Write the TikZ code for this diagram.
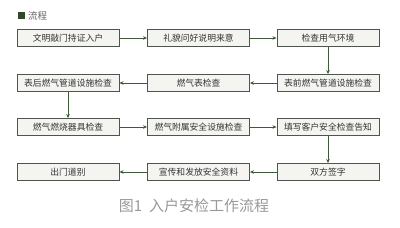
\documentclass[tikz,border=0pt]{standalone}
\usepackage{fontspec}
\setmainfont{Noto Sans CJK SC}
\usetikzlibrary{arrows.meta}
\definecolor{bordc}{HTML}{4E5550}
\definecolor{fillc}{HTML}{F4F4F1}
\definecolor{arrc}{HTML}{3F5A38}
\definecolor{txtc}{HTML}{333333}
\begin{document}
\begin{tikzpicture}[x=1pt,y=-1pt,
  stepbox/.style={draw=bordc,line width=0.9pt,fill=fillc,minimum width=102pt,minimum height=17pt,inner sep=0pt,font=\fontsize{8.8}{9}\selectfont,text=txtc},
  conn/.style={draw=arrc,line width=0.6pt,-{Stealth[length=4pt,width=3.5pt]}}]
\fill[white] (0,0) rectangle (400,228);
\useasboundingbox (0,0) rectangle (400,228);
\fill[arrc!80!black] (18,12) rectangle (25,19);
\node[anchor=west,text=gray!80!black,font=\fontsize{9.5}{10}\selectfont,inner sep=0pt] (title) at (28,15.5) {流程};
\node[stepbox] (a1) at (68,38) {文明敲门持证入户};
\node[stepbox] (a2) at (198.5,38) {礼貌问好说明来意};
\node[stepbox] (a3) at (328,38) {检查用气环境};
\node[stepbox] (b1) at (68,83) {表后燃气管道设施检查};
\node[stepbox] (b2) at (198.5,83) {燃气表检查};
\node[stepbox] (b3) at (328,83) {表前燃气管道设施检查};
\node[stepbox] (c1) at (68,127) {燃气燃烧器具检查};
\node[stepbox] (c2) at (198.5,127) {燃气附属安全设施检查};
\node[stepbox] (c3) at (328,127) {填写客户安全检查告知};
\node[stepbox] (d1) at (68,172) {出门道别};
\node[stepbox] (d2) at (198.5,172) {宣传和发放安全资料};
\node[stepbox] (d3) at (328,172) {双方签字};
\draw[conn] (a1) -- (a2);
\draw[conn] (a2) -- (a3);
\draw[conn] (a3) -- (b3);
\draw[conn] (b3) -- (b2);
\draw[conn] (b2) -- (b1);
\draw[conn] (b1) -- (c1);
\draw[conn] (c1) -- (c2);
\draw[conn] (c2) -- (c3);
\draw[conn] (c3) -- (d3);
\draw[conn] (d3) -- (d2);
\draw[conn] (d2) -- (d1);
\node[text=gray!80,font=\fontsize{15}{16}\selectfont] (cap) at (194,206) {图1\ \ 入户安检工作流程};
\end{tikzpicture}
\end{document}
